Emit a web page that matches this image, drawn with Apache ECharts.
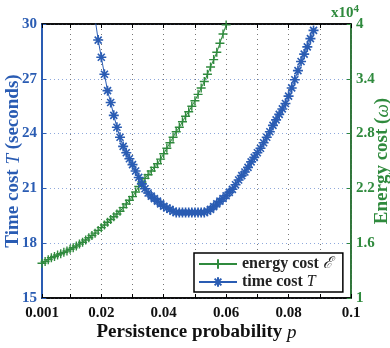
<!DOCTYPE html>
<html><head><meta charset="utf-8">
<script src="https://cdn.jsdelivr.net/npm/echarts@6/dist/echarts.min.js"></script>
<style>html,body{margin:0;padding:0;background:#fff}#c{width:390px;height:348px}</style>
</head><body><div id="c"></div>
<script>
const pTime = [0.018,0.019,0.020,0.021,0.022,0.023,0.024,0.025,0.026,0.027,0.028,0.029,0.030,0.031,0.032,0.033,0.034,0.035,0.036,0.037,0.038,0.039,0.040,0.041,0.042,0.043,0.044,0.045,0.046,0.047,0.048,0.049,0.050,0.051,0.052,0.053,0.054,0.055,0.056,0.057,0.058,0.059,0.060,0.061,0.062,0.063,0.064,0.065,0.066,0.067,0.068,0.069,0.070,0.071,0.072,0.073,0.074,0.075,0.076,0.077,0.078,0.079,0.080,0.081,0.082,0.083,0.084,0.085,0.086,0.087,0.088];
const timeCost = [30.3,29.12,28.18,27.25,26.35,25.7,25.0,24.35,23.8,23.3,22.95,22.62,22.3,21.95,21.6,21.25,20.98,20.75,20.58,20.44,20.3,20.15,20.02,19.93,19.85,19.75,19.68,19.68,19.68,19.68,19.68,19.68,19.68,19.68,19.68,19.68,19.75,19.85,20.0,20.15,20.3,20.45,20.6,20.78,20.95,21.2,21.46,21.7,21.9,22.15,22.45,22.7,22.95,23.2,23.5,23.8,24.1,24.45,24.75,25.05,25.35,25.65,26.05,26.5,26.95,27.45,27.95,28.35,28.75,29.2,29.65];
const pEnergy = [0.001,0.002,0.003,0.004,0.005,0.006,0.007,0.008,0.009,0.010,0.011,0.012,0.013,0.014,0.015,0.016,0.017,0.018,0.019,0.020,0.021,0.022,0.023,0.024,0.025,0.026,0.027,0.028,0.029,0.030,0.031,0.032,0.033,0.034,0.035,0.036,0.037,0.038,0.039,0.040,0.041,0.042,0.043,0.044,0.045,0.046,0.047,0.048,0.049,0.050,0.051,0.052,0.053,0.054,0.055,0.056,0.057,0.058,0.059,0.060];
const energyCost = [1.38,1.40,1.42,1.44,1.455,1.47,1.485,1.50,1.515,1.533,1.55,1.57,1.59,1.61,1.635,1.66,1.685,1.71,1.74,1.77,1.80,1.83,1.86,1.89,1.92,1.95,1.99,2.03,2.07,2.11,2.16,2.22,2.27,2.31,2.35,2.39,2.43,2.47,2.52,2.58,2.64,2.70,2.76,2.82,2.87,2.93,2.99,3.04,3.10,3.16,3.23,3.30,3.37,3.45,3.53,3.61,3.69,3.79,3.89,3.99];
const xTicks = [0.001,0.01,0.02,0.03,0.04,0.05,0.06,0.07,0.08,0.09,0.1];
const xLabels = [0.001,0.02,0.04,0.06,0.08,0.1];
const yLeftTicks = [15,18,21,24,27,30];
const yRightTicks = [1,1.6,2.2,2.8,3.4,4];

const BLUE = '#2a5cb3', GREEN = '#2f8a3d';
const SERIF = "'Liberation Serif','DejaVu Serif',serif";
const PLUS = 'path://M5,0L5,10M0,5L10,5';
const STAR = 'path://M5,0L5,10M0,5L10,5M1.5,1.5L8.5,8.5M1.5,8.5L8.5,1.5';

const chart = echarts.init(document.getElementById('c'), null, {renderer:'canvas'});
chart.setOption({
  animation:false,
  backgroundColor:'#fff',
  grid:{left:42,right:39,top:24,bottom:50,show:true,borderColor:'#000',borderWidth:1.5,
    containLabel:false,outerBoundsMode:'none'},
  legend:{
    orient:'vertical', left:194, top:253, padding:[3,10,2,4], itemGap:2,
    borderColor:'#000', borderWidth:1.5, backgroundColor:'#fff',
    itemWidth:38, itemHeight:12,
    data:['energy','time'],
    formatter:function(n){return n==='energy' ? 'energy cost {i|ℰ}' : 'time cost {i|T}';},
    textStyle:{fontFamily:SERIF,fontWeight:'bold',fontSize:16,color:'#222',
      rich:{i:{fontFamily:SERIF,fontStyle:'italic',fontWeight:'normal',fontSize:16,color:'#222'}}}
  },
  xAxis:[{
    type:'value', min:0.001, max:0.1, position:'bottom',
    name:'Persistence probability {i|p}', nameLocation:'middle', nameGap:25, nameMoveOverlap:false,
    nameTextStyle:{fontFamily:SERIF,fontWeight:'bold',fontSize:19,color:'#111',
      rich:{i:{fontFamily:SERIF,fontStyle:'italic',fontWeight:'normal',fontSize:19,color:'#111'}}},
    axisLine:{lineStyle:{color:'#000',width:1.5}},
    axisTick:{inside:true,length:4,customValues:xTicks,lineStyle:{color:'#000'}},
    axisLabel:{customValues:xLabels,margin:8,fontFamily:SERIF,fontWeight:'bold',fontSize:15,color:'#111',
      formatter:function(v){return String(+Number(v).toFixed(3));}},
    splitLine:{show:true,lineStyle:{color:'#777',type:[1,4],width:1}}
  },{
    type:'value', min:0.001, max:0.1, position:'top',
    axisLine:{lineStyle:{color:'#000',width:1.5}},
    axisTick:{inside:true,length:4,customValues:xTicks,lineStyle:{color:'#000'}},
    axisLabel:{show:false}, splitLine:{show:false}
  }],
  yAxis:[{
    type:'value', min:15, max:30, interval:3, position:'left',
    name:'Time cost {i|T} (seconds)', nameLocation:'middle', nameGap:19, nameRotate:90, nameMoveOverlap:false,
    nameTextStyle:{fontFamily:SERIF,fontWeight:'bold',fontSize:19,color:BLUE,
      rich:{i:{fontFamily:SERIF,fontStyle:'italic',fontWeight:'normal',fontSize:19,color:BLUE}}},
    axisLine:{show:true,lineStyle:{color:BLUE,width:2}},
    axisTick:{show:true,inside:true,length:4,lineStyle:{color:BLUE}},
    axisLabel:{margin:5,fontFamily:SERIF,fontWeight:'bold',fontSize:15,color:BLUE},
    splitLine:{show:true,lineStyle:{color:'#8fa9dc',type:[1,3],width:1}}
  },{
    type:'value', min:1, max:4, position:'right',
    name:'Energy cost ({i|ω})', nameLocation:'middle', nameGap:22, nameRotate:90, nameMoveOverlap:false,
    nameTextStyle:{fontFamily:SERIF,fontWeight:'bold',fontSize:19,color:GREEN,verticalAlign:'top',
      rich:{i:{fontFamily:SERIF,fontStyle:'italic',fontWeight:'normal',fontSize:19,color:GREEN}}},
    axisLine:{show:true,lineStyle:{color:GREEN,width:1.5}},
    axisTick:{show:true,inside:true,length:4,customValues:yRightTicks,lineStyle:{color:GREEN}},
    axisLabel:{customValues:yRightTicks,margin:5,fontFamily:SERIF,fontWeight:'bold',fontSize:15,color:GREEN,
      formatter:function(v){return String(+Number(v).toFixed(1));}},
    splitLine:{show:false}
  }],
  graphic:[{
    type:'text', left:331, top:4,
    style:{text:'x10{s|4}', fill:GREEN, font:"bold 15px 'Liberation Serif', serif",
      rich:{s:{fontSize:11,fontWeight:'bold',fontFamily:SERIF,fill:GREEN,verticalAlign:'top',padding:[0,0,8,0]}}}
  }],
  series:[{
    name:'energy', type:'line', xAxisIndex:0, yAxisIndex:1,
    data:pEnergy.map(function(p,i){return [p,energyCost[i]];}),
    symbol:PLUS, symbolSize:9, showAllSymbol:true,
    lineStyle:{color:GREEN,width:1},
    itemStyle:{color:GREEN,borderColor:GREEN,borderWidth:1.4},
    z:3
  },{
    name:'time', type:'line', xAxisIndex:0, yAxisIndex:0,
    data:pTime.map(function(p,i){return [p,timeCost[i]];}),
    symbol:STAR, symbolSize:10, showAllSymbol:true,
    lineStyle:{color:BLUE,width:1},
    itemStyle:{color:BLUE,borderColor:BLUE,borderWidth:1.6},
    z:4
  }]
});
</script></body></html>
